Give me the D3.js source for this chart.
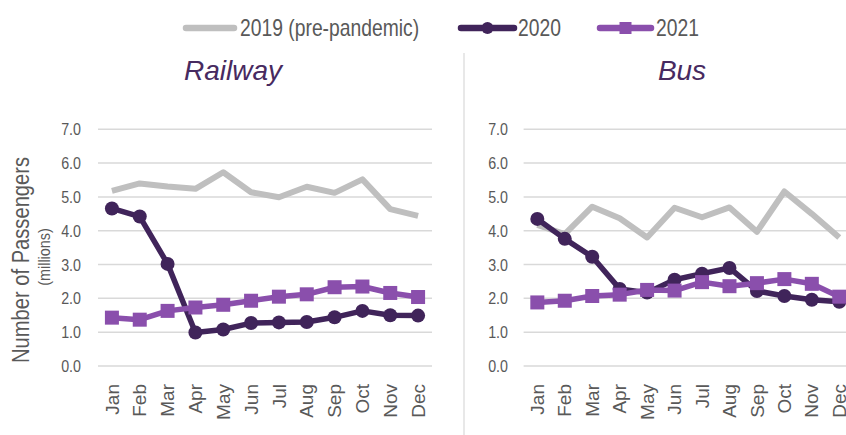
<!DOCTYPE html>
<html><head><meta charset="utf-8">
<script src="https://cdn.jsdelivr.net/npm/d3@7"></script>
<style>
html,body{margin:0;padding:0;background:#fff;}
svg{display:block;}
</style></head>
<body>
<svg id="chart" width="846" height="435"></svg>
<script>
const months = ["Jan","Feb","Mar","Apr","May","Jun","Jul","Aug","Sep","Oct","Nov","Dec"];
const yTicks = [0,1,2,3,4,5,6,7];
const seriesNames = ["2019 (pre-pandemic)","2020","2021"];
const panelTitles = ["Railway","Bus"];

const rail2019 = [5.18,5.40,5.31,5.24,5.73,5.14,4.99,5.30,5.12,5.52,4.64,4.44];
const rail2020 = [4.66,4.42,3.02,0.99,1.08,1.27,1.29,1.30,1.44,1.63,1.50,1.49];
const rail2021 = [1.43,1.37,1.63,1.73,1.81,1.93,2.05,2.12,2.33,2.35,2.16,2.04];

const bus2019 = [4.17,3.90,4.71,4.37,3.80,4.68,4.40,4.69,3.97,5.16,4.50,3.80];
const bus2020 = [4.35,3.76,3.23,2.28,2.17,2.55,2.73,2.90,2.22,2.07,1.96,1.90];
const bus2021 = [1.88,1.93,2.07,2.11,2.25,2.23,2.48,2.36,2.45,2.57,2.43,2.05];

const colors = ["#BFBFBF","#40245A","#8A4FAC"];
const textGray = "#595959";
const font = "'Liberation Sans',Arial,sans-serif";
const condense = 0.84;

const svg = d3.select("#chart");

const y = d3.scaleLinear().domain([0,7]).range([366,129.3]);

const panels = [
  {title: panelTitles[0], data:[rail2019,rail2020,rail2021], x0:98, x1:432, labelX:81, titleX:233},
  {title: panelTitles[1], data:[bus2019,bus2020,bus2021], x0:523.6, x1:853, labelX:508, titleX:682}
];

// divider
svg.append("line").attr("x1",464).attr("x2",464).attr("y1",53).attr("y2",435)
  .attr("stroke","#D9D9D9").attr("stroke-width",1.2);

panels.forEach(p => {
  const x = d3.scalePoint().domain(months).range([p.x0,p.x1]).padding(0.5);
  const g = svg.append("g");
  // gridlines
  g.selectAll(".grid").data(yTicks).join("line")
    .attr("x1",p.x0).attr("x2",p.x1)
    .attr("y1",d=>y(d)).attr("y2",d=>y(d))
    .attr("stroke","#D9D9D9").attr("stroke-width",1.5);
  // y labels (condensed)
  g.selectAll(".yl").data(yTicks).join("text")
    .attr("transform",d=>`translate(${p.labelX},${y(d)}) scale(${condense},1)`)
    .attr("dy","0.35em")
    .attr("text-anchor","end")
    .attr("font-family",font).attr("font-size",17).attr("fill",textGray)
    .text(d=>d.toFixed(1));
  // x labels
  g.selectAll(".xl").data(months).join("text")
    .attr("transform",d=>`translate(${x(d)},384) rotate(-90)`)
    .attr("dy","0.35em").attr("text-anchor","end")
    .attr("font-family",font).attr("font-size",19).attr("fill",textGray)
    .text(d=>d);
  // title
  g.append("text").attr("x",p.titleX).attr("y",80).attr("text-anchor","middle")
    .attr("font-family",font).attr("font-style","italic").attr("font-size",28)
    .attr("fill","#472A60").text(p.title);

  const line = d3.line().x((d,i)=>x(months[i])).y(d=>y(d));
  p.data.forEach((vals,si)=>{
    g.append("path").datum(vals).attr("d",line)
      .attr("fill","none").attr("stroke",colors[si])
      .attr("stroke-width",si===0?6:5.5).attr("stroke-linejoin","round");
    if(si===1){
      g.selectAll(".c"+si).data(vals).join("circle")
        .attr("cx",(d,i)=>x(months[i])).attr("cy",d=>y(d)).attr("r",7)
        .attr("fill",colors[si]);
    } else if(si===2){
      g.selectAll(".s"+si).data(vals).join("rect")
        .attr("x",(d,i)=>x(months[i])-7).attr("y",d=>y(d)-7)
        .attr("width",14).attr("height",14).attr("fill",colors[si]);
    }
  });
});

// y axis title
svg.append("text").attr("transform",`translate(21,260) rotate(-90) scale(${condense},1)`)
  .attr("text-anchor","middle").attr("dy","0.35em")
  .attr("font-family",font).attr("font-size",24).attr("fill",textGray)
  .text("Number of Passengers");
svg.append("text").attr("transform","translate(44,257) rotate(-90) scale(0.9,1)")
  .attr("text-anchor","middle").attr("dy","0.35em")
  .attr("font-family",font).attr("font-size",16).attr("fill",textGray)
  .text("(millions)");

// legend
const legendItems = [
  {name:seriesNames[0], x1:183, x2:237, tx:240, c:colors[0], m:null},
  {name:seriesNames[1], x1:458, x2:517, tx:518, c:colors[1], m:"circle"},
  {name:seriesNames[2], x1:597, x2:654, tx:656, c:colors[2], m:"square"}
];
const ly = 28;
const lg = svg.append("g");
legendItems.forEach(it=>{
  lg.append("line").attr("x1",it.x1+3).attr("x2",it.x2-3).attr("y1",ly).attr("y2",ly)
    .attr("stroke",it.c).attr("stroke-width",6.5).attr("stroke-linecap","round");
  const mx=(it.x1+it.x2)/2;
  if(it.m==="circle") lg.append("circle").attr("cx",mx).attr("cy",ly).attr("r",6).attr("fill",it.c);
  if(it.m==="square") lg.append("rect").attr("x",mx-6).attr("y",ly-6).attr("width",12).attr("height",12).attr("fill",it.c);
  lg.append("text").attr("transform",`translate(${it.tx},${ly}) scale(${condense},1)`)
    .attr("dy","0.35em")
    .attr("font-family",font).attr("font-size",23).attr("fill",textGray).text(it.name);
});
</script>
</body></html>
